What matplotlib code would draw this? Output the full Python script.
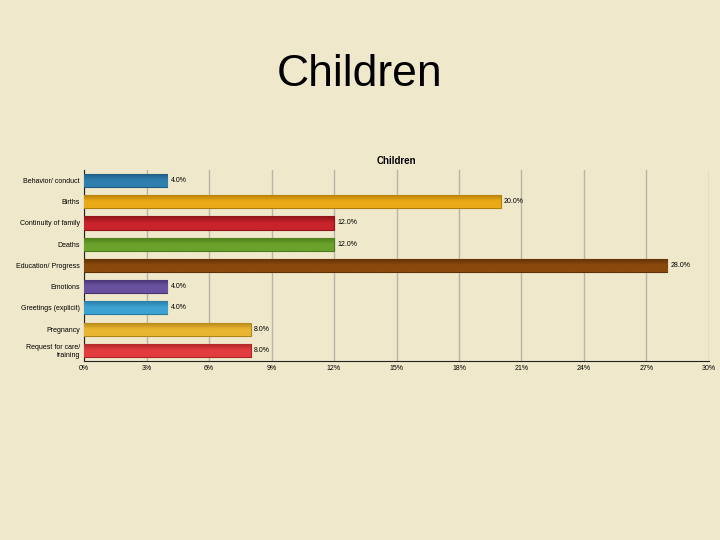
import matplotlib.pyplot as plt
import numpy as np
from matplotlib.colors import LinearSegmentedColormap

categories = ["Behavior/ conduct", "Births", "Continuity of family", "Deaths",
              "Education/ Progress", "Emotions", "Greetings (explicit)",
              "Pregnancy", "Request for care/\ntraining"]
values = [4.0, 20.0, 12.0, 12.0, 28.0, 4.0, 4.0, 8.0, 8.0]
colors = ["#2f7fae", "#eaaa18", "#c9232b", "#6aa22c", "#8a4a0c",
          "#6a51a0", "#3ca3d2", "#e9b632", "#e23c3e"]
edges = ["#1e5a80", "#b07c08", "#8e1418", "#4a7a18", "#5e3006",
         "#463470", "#26789e", "#b08418", "#a82424"]
ticks = np.arange(0, 31, 3)

plt.rcParams['font.family'] = ['Liberation Sans', 'DejaVu Sans']

fig = plt.figure(figsize=(7.2, 5.4), dpi=100)
fig.patch.set_facecolor('#efe8cb')
fig.text(0.5, 0.84, "Children", ha='center', va='baseline', fontsize=32)

ax = fig.add_axes([0.1167, 0.3315, 0.868, 0.354])
ax.set_facecolor('none')
y = np.arange(len(categories))
bars = ax.barh(y, values, height=0.62, color=colors, edgecolor=edges, linewidth=0.8, zorder=3)

# shade each bar: darker at the top, lighter toward the bottom
grad = np.linspace(0, 1, 50).reshape(-1, 1)
for b, c, e in zip(bars, colors, edges):
    cmap = LinearSegmentedColormap.from_list('g', [e, c, c])
    x0, y0 = b.get_x(), b.get_y()
    im = ax.imshow(grad, cmap=cmap, aspect='auto', zorder=3.5,
                   extent=(x0, x0 + b.get_width(), y0 + b.get_height(), y0))
    im.set_clip_path(b)

for yi, v in zip(y, values):
    ax.text(v + 0.15, yi, f"{v:.1f}%", va='center', ha='left', fontsize=5, zorder=4)

ax.set_ylim(len(categories) - 0.5, -0.5)
ax.set_xlim(0, 30)
ax.set_xticks(ticks)
ax.set_xticklabels([f"{t}%" for t in ticks], fontsize=5)
ax.set_yticks(y)
ax.set_yticklabels(categories, fontsize=5)
ax.tick_params(length=0, pad=3)
ax.grid(axis='x', color='#b8b4a8', linewidth=1, zorder=0)
for s in ['top', 'right']:
    ax.spines[s].set_visible(False)
ax.spines['left'].set_color('#222222')
ax.spines['bottom'].set_color('#222222')
ax.set_title("Children", fontsize=7, fontweight='bold', pad=4)

fig.savefig("out.png", dpi=100, facecolor=fig.get_facecolor())
